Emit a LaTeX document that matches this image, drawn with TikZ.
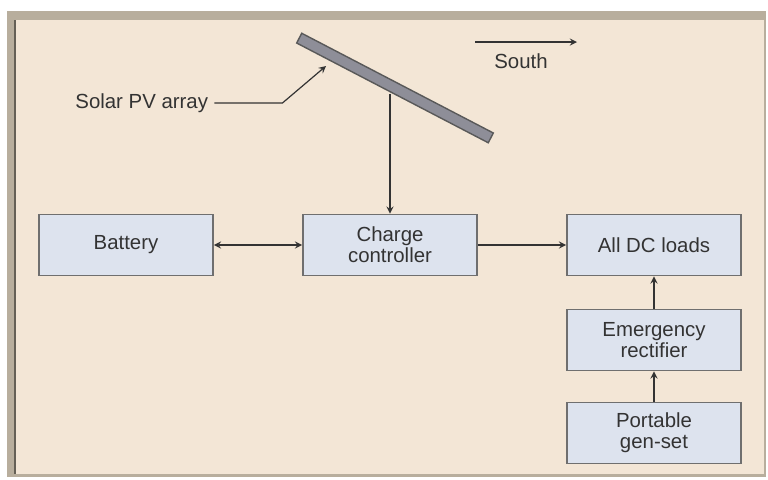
\documentclass[tikz,border=0pt]{standalone}
\usepackage{fontspec}
\setmainfont{Liberation Sans}
\usetikzlibrary{calc}
\definecolor{paneBeige}{HTML}{F3E6D6}
\definecolor{frameTan}{HTML}{B8AE9D}
\definecolor{boxBlue}{HTML}{DDE3EE}
\definecolor{boxEdge}{HTML}{6F6F6F}
\definecolor{pvGray}{HTML}{8E8E98}

\begin{document}
\begin{tikzpicture}[x=0.5pt, y=-0.5pt, >=stealth,
  unit/.style={draw=boxEdge, line width=0.9pt, fill=boxBlue, minimum width=87pt,
    minimum height=30.5pt, align=center, inner sep=0pt, text=black!80,
    font=\fontsize{10.2}{10.5}\selectfont},
  lbl/.style={inner sep=0pt, text=black!80, font=\fontsize{10.2}{10.5}\selectfont},
  wire/.style={line width=0.6pt, black!80}]
  % frame
  \useasboundingbox (0,0) rectangle (768,479);
  \fill[white] (0,0) rectangle (768,479);
  \fill[frameTan] (7,11) rectangle (766,477);
  \fill[paneBeige] (16,20) rectangle (764,474);
  \draw[frameTan!55!black, line width=0.6pt] (15,20) -- (15,474);
  % PV array
  \node[draw=black!65, fill=pvGray, line width=0.7pt, rotate=-27.5,
    minimum width=108pt, minimum height=5.5pt, inner sep=0pt] (pv) at (395,88) {};
  % blocks
  \node[unit] (bat) at (126,245) {Battery};
  \node[unit] (ctrl) at (390,245) {Charge\\controller};
  \node[unit] (loads) at (654,245) {All DC loads};
  \node[unit] (rect) at (654,340) {Emergency\\rectifier};
  \node[unit] (gen) at (654,433) {Portable\\gen-set};
  % labels
  \node[lbl, anchor=west] (pvlbl) at (75,103) {Solar PV array};
  \node[lbl] (south) at (521,61) {South};
  \coordinate (pvtip) at (326,66);
  \coordinate (s0) at (475,42);
  \coordinate (s1) at (577,42);
  % connectors
  \draw[wire,->] ([xshift=3pt]pvlbl.east) -- ++(68,0) -- (pvtip);
  \draw[wire,->] (pv.south -| ctrl.north) -- (ctrl.north);
  \draw[wire,<->] (bat) -- (ctrl);
  \draw[wire,->] (ctrl) -- (loads);
  \draw[wire,->] (rect) -- (loads);
  \draw[wire,->] (gen) -- (rect);
  \draw[wire,->] (s0) -- (s1);
\end{tikzpicture}
\end{document}
